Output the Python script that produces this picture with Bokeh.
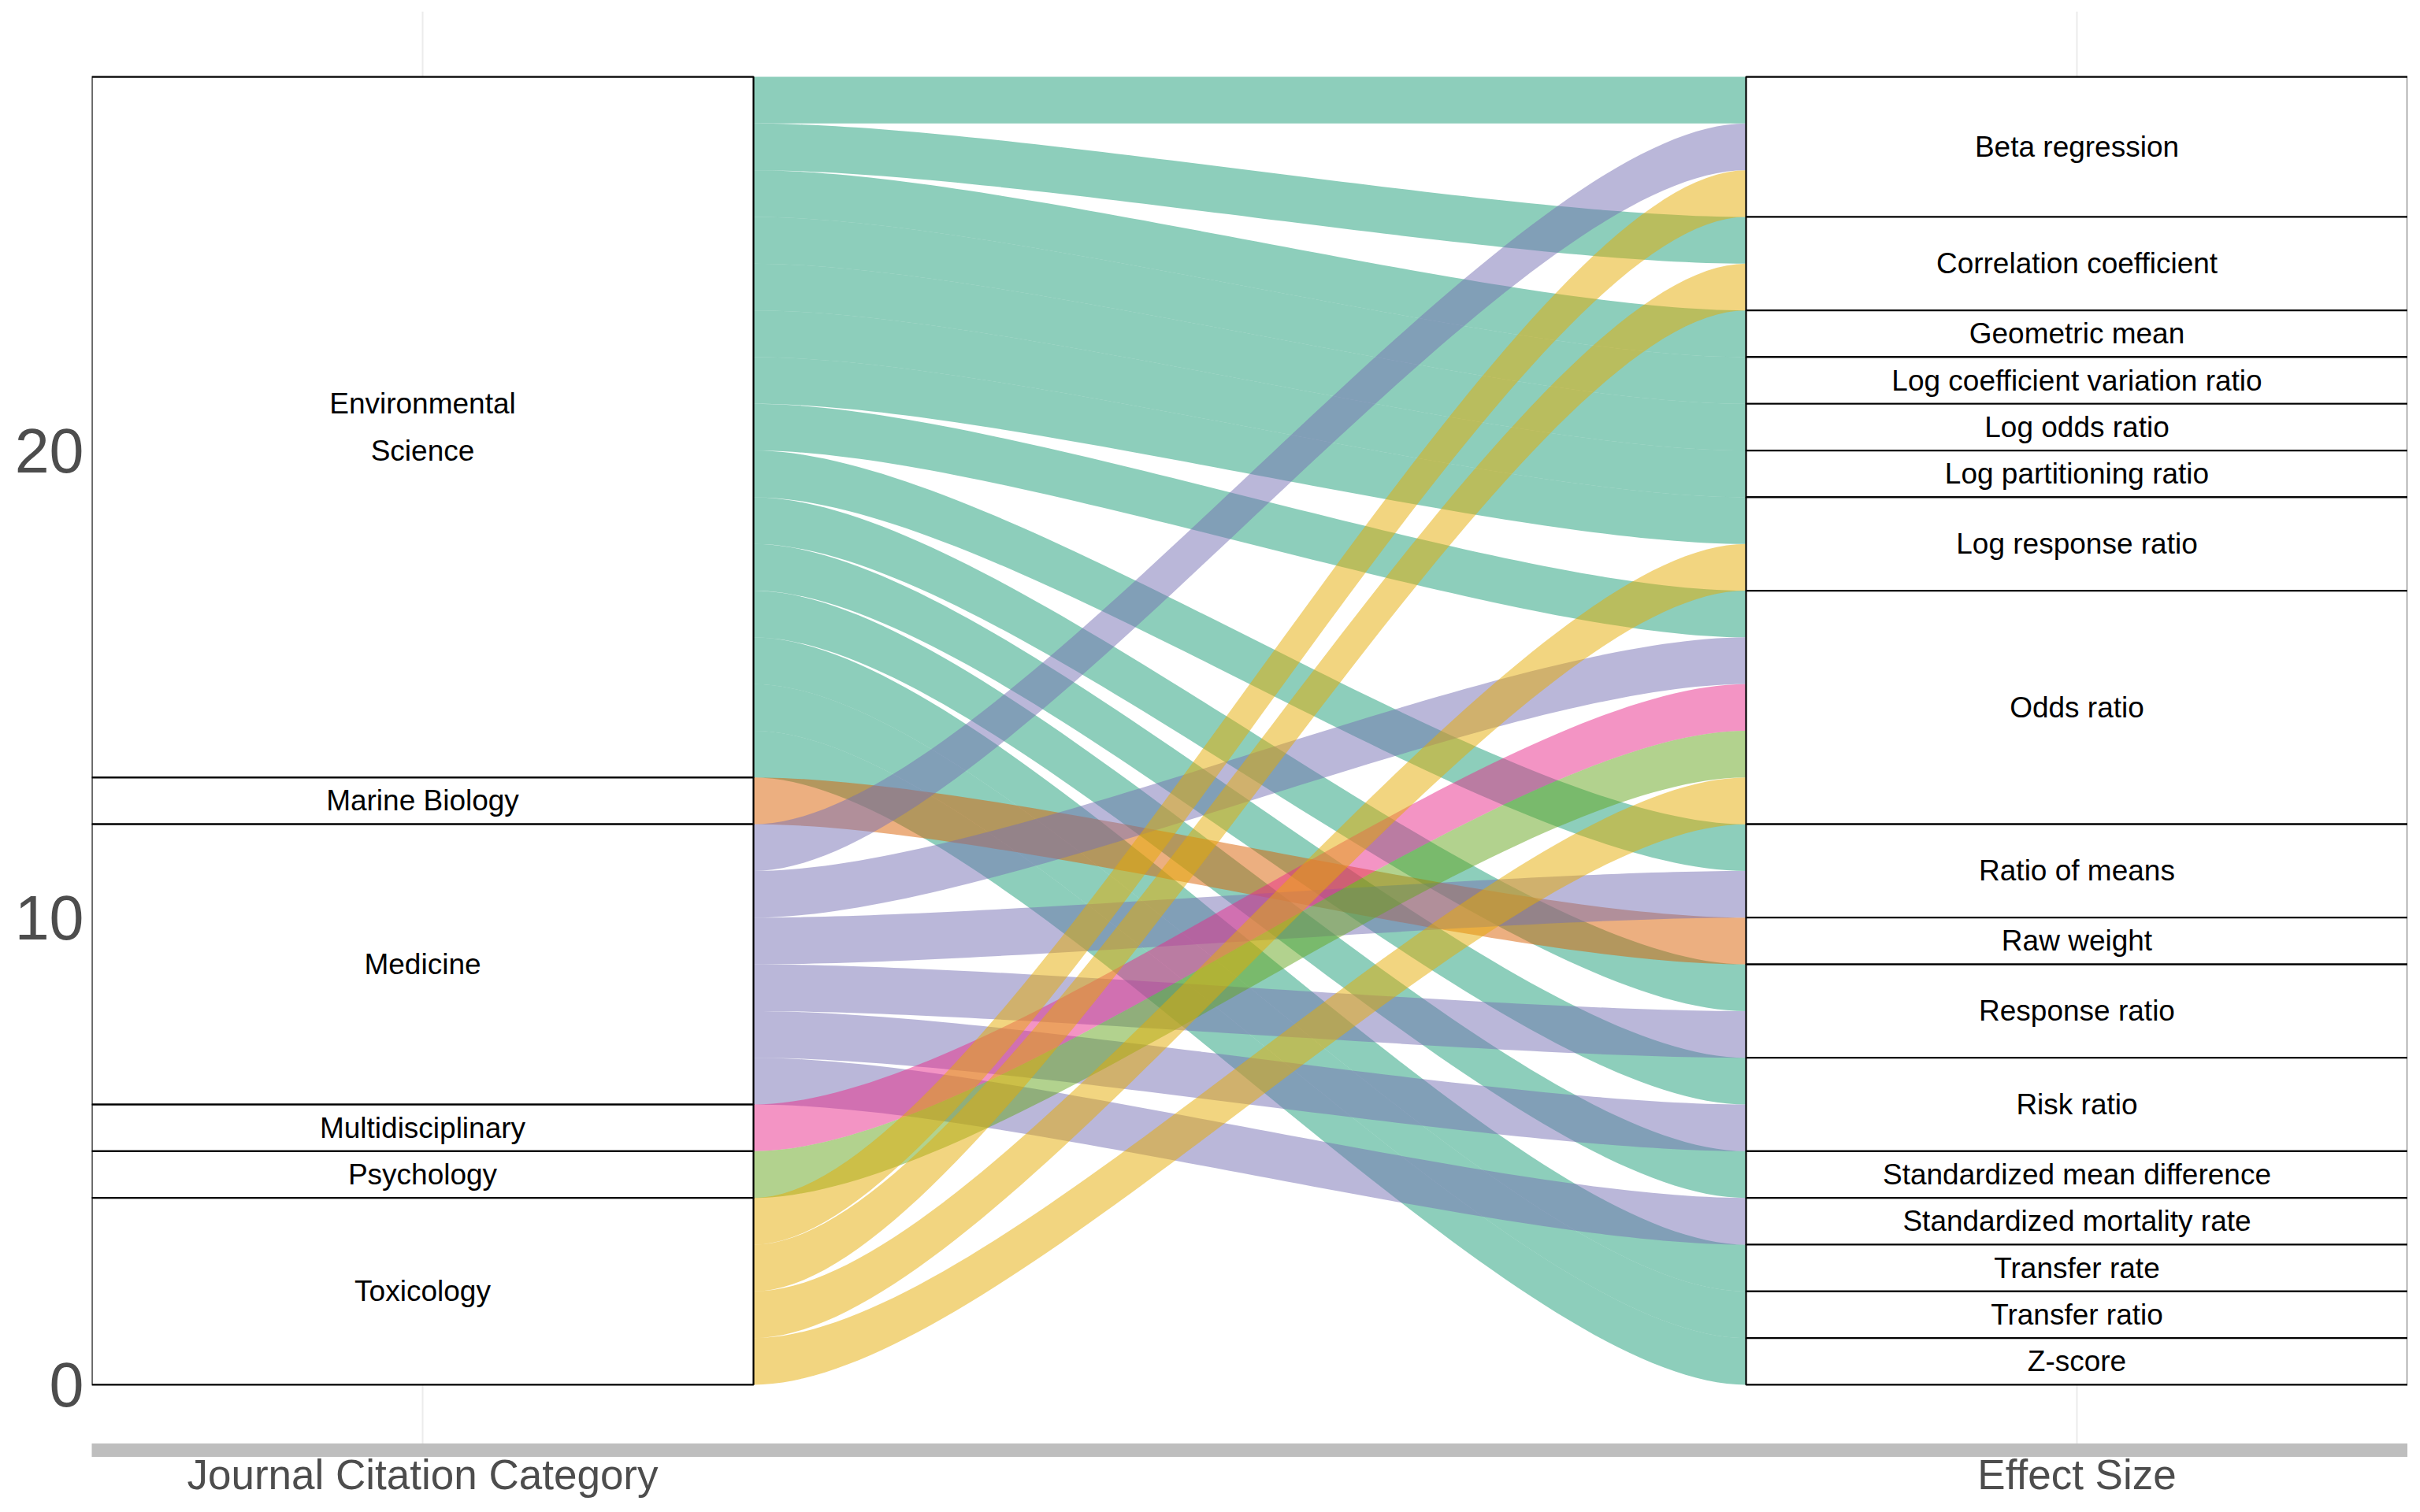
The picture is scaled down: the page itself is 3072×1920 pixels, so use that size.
import numpy as np
from bokeh.plotting import figure
from bokeh.models import ColumnDataSource, FixedTicker, Range1d
from bokeh.core.properties import value
from bokeh.embed import file_html
from bokeh.resources import INLINE

# ---------------- data ----------------
journals = ["Environmental Science", "Marine Biology", "Medicine",
            "Multidisciplinary", "Psychology", "Toxicology"]
journal_labels = ["Environmental\nScience", "Marine Biology", "Medicine",
                  "Multidisciplinary", "Psychology", "Toxicology"]
journal_colors = ["#1B9E77", "#D95F02", "#7570B3", "#E7298A", "#66A61E", "#E6AB02"]

effects = ["Beta regression", "Correlation coefficient", "Geometric mean",
           "Log coefficient variation ratio", "Log odds ratio", "Log partitioning ratio",
           "Log response ratio", "Odds ratio", "Ratio of means", "Raw weight",
           "Response ratio", "Risk ratio", "Standardized mean difference",
           "Standardized mortality rate", "Transfer rate", "Transfer ratio", "Z-score"]

flow_journal = (["Environmental Science"] * 15 + ["Marine Biology"] + ["Medicine"] * 6
                + ["Multidisciplinary"] + ["Psychology"] + ["Toxicology"] * 4)
flow_effect = ["Beta regression", "Correlation coefficient", "Geometric mean",
               "Log coefficient variation ratio", "Log odds ratio", "Log partitioning ratio",
               "Log response ratio", "Odds ratio", "Ratio of means", "Response ratio",
               "Risk ratio", "Standardized mean difference", "Transfer rate",
               "Transfer ratio", "Z-score",
               "Raw weight",
               "Beta regression", "Odds ratio", "Ratio of means", "Response ratio",
               "Risk ratio", "Standardized mortality rate",
               "Odds ratio",
               "Odds ratio",
               "Beta regression", "Correlation coefficient", "Log response ratio", "Odds ratio"]
flow_count = [1] * 28

axis_labels = ["Journal Citation Category", "Effect Size"]
y_ticks = [0, 10, 20]

# ---------------- layout computations ----------------
W = 0.4
XL, XR = 1 + W / 2, 2 - W / 2
total = sum(flow_count)
n = len(flow_count)
ji = [journals.index(j) for j in flow_journal]
ei = [effects.index(e) for e in flow_effect]

j_tot = [sum(c for c, k in zip(flow_count, ji) if k == i) for i in range(len(journals))]
e_tot = [sum(c for c, k in zip(flow_count, ei) if k == i) for i in range(len(effects))]

def stack(tots):
    tops, bots = [], []
    cur = total
    for t in tots:
        tops.append(cur)
        bots.append(cur - t)
        cur -= t
    return tops, bots

j_top, j_bot = stack(j_tot)
e_top, e_bot = stack(e_tot)

left_top = [0.0] * n
right_top = [0.0] * n
for jj in range(len(journals)):
    idx = sorted([k for k in range(n) if ji[k] == jj], key=lambda k: ei[k])
    cur = j_top[jj]
    for k in idx:
        left_top[k] = cur
        cur -= flow_count[k]
for ee in range(len(effects)):
    idx = sorted([k for k in range(n) if ei[k] == ee], key=lambda k: ji[k])
    cur = e_top[ee]
    for k in idx:
        right_top[k] = cur
        cur -= flow_count[k]

t = np.linspace(0, 1, 80)
kk = 0.25
bx = 3 * (1 - t) ** 2 * t * kk + 3 * (1 - t) * t ** 2 * (1 - kk) + t ** 3
by = 3 * t ** 2 - 2 * t ** 3
cx = XL + (XR - XL) * bx

xs, ys, cols = [], [], []
for k in range(n):
    lt, rt = left_top[k], right_top[k]
    lb, rb = lt - flow_count[k], rt - flow_count[k]
    top = lt + (rt - lt) * by
    bot = lb + (rb - lb) * by
    xs.append(list(cx) + list(cx[::-1]))
    ys.append(list(top) + list(bot[::-1]))
    cols.append(journal_colors[ji[k]])

flows = ColumnDataSource(dict(xs=xs, ys=ys, color=cols))

strata = ColumnDataSource(dict(
    left=[1 - W / 2] * len(journals) + [2 - W / 2] * len(effects),
    right=[1 + W / 2] * len(journals) + [2 + W / 2] * len(effects),
    top=j_top + e_top,
    bottom=j_bot + e_bot,
    x=[1] * len(journals) + [2] * len(effects),
    y=[(a + b) / 2 for a, b in zip(j_top + e_top, j_bot + e_bot)],
    label=journal_labels + effects,
))

# ---------------- figure ----------------
p = figure(width=3056, height=1904, output_backend="svg", toolbar_location=None,
           x_range=Range1d(0.8, 2.2), y_range=Range1d(-1.4, 29.4),
           min_border_left=116, min_border_right=0, min_border_top=14, min_border_bottom=61)
p.outline_line_color = None
p.background_fill_color = "white"
p.border_fill_color = "white"

p.patches("xs", "ys", source=flows, fill_color="color", fill_alpha=0.5, line_color=None)
p.quad(left="left", right="right", top="top", bottom="bottom", source=strata,
       fill_color="white", line_color="black", line_width=2.2)
p.text(x="x", y="y", text="label", source=strata, text_align="center",
       text_baseline="middle", text_font_size="37px", text_color="black",
       text_font=value("Liberation Sans"), text_line_height=1.45)

p.xaxis.ticker = FixedTicker(ticks=[1, 2])
p.xaxis.major_label_overrides = {1: axis_labels[0], 2: axis_labels[1]}
p.xaxis.major_label_text_font_size = "53px"
p.xaxis.major_label_text_font = "Liberation Sans"
p.xaxis.major_label_text_color = "#4D4D4D"
p.xaxis.axis_line_width = 17
p.xaxis.axis_line_color = "#BEBEBE"
p.xaxis.major_tick_line_color = None
p.xaxis.minor_tick_line_color = None
p.xaxis.major_tick_out = 0
p.xaxis.major_label_standoff = 1

p.yaxis.ticker = FixedTicker(ticks=y_ticks)
p.yaxis.major_label_text_font_size = "79px"
p.yaxis.major_label_text_font = "Liberation Sans"
p.yaxis.major_label_text_color = "#4D4D4D"
p.yaxis.axis_line_color = None
p.yaxis.major_tick_line_color = None
p.yaxis.minor_tick_line_color = None
p.yaxis.major_tick_out = 0
p.yaxis.major_label_standoff = 10

p.xgrid.ticker = FixedTicker(ticks=[1, 2])
p.xgrid.grid_line_color = "#EBEBEB"
p.xgrid.grid_line_width = 2
p.ygrid.grid_line_color = None

open("out.html", "w").write(file_html(p, INLINE))
